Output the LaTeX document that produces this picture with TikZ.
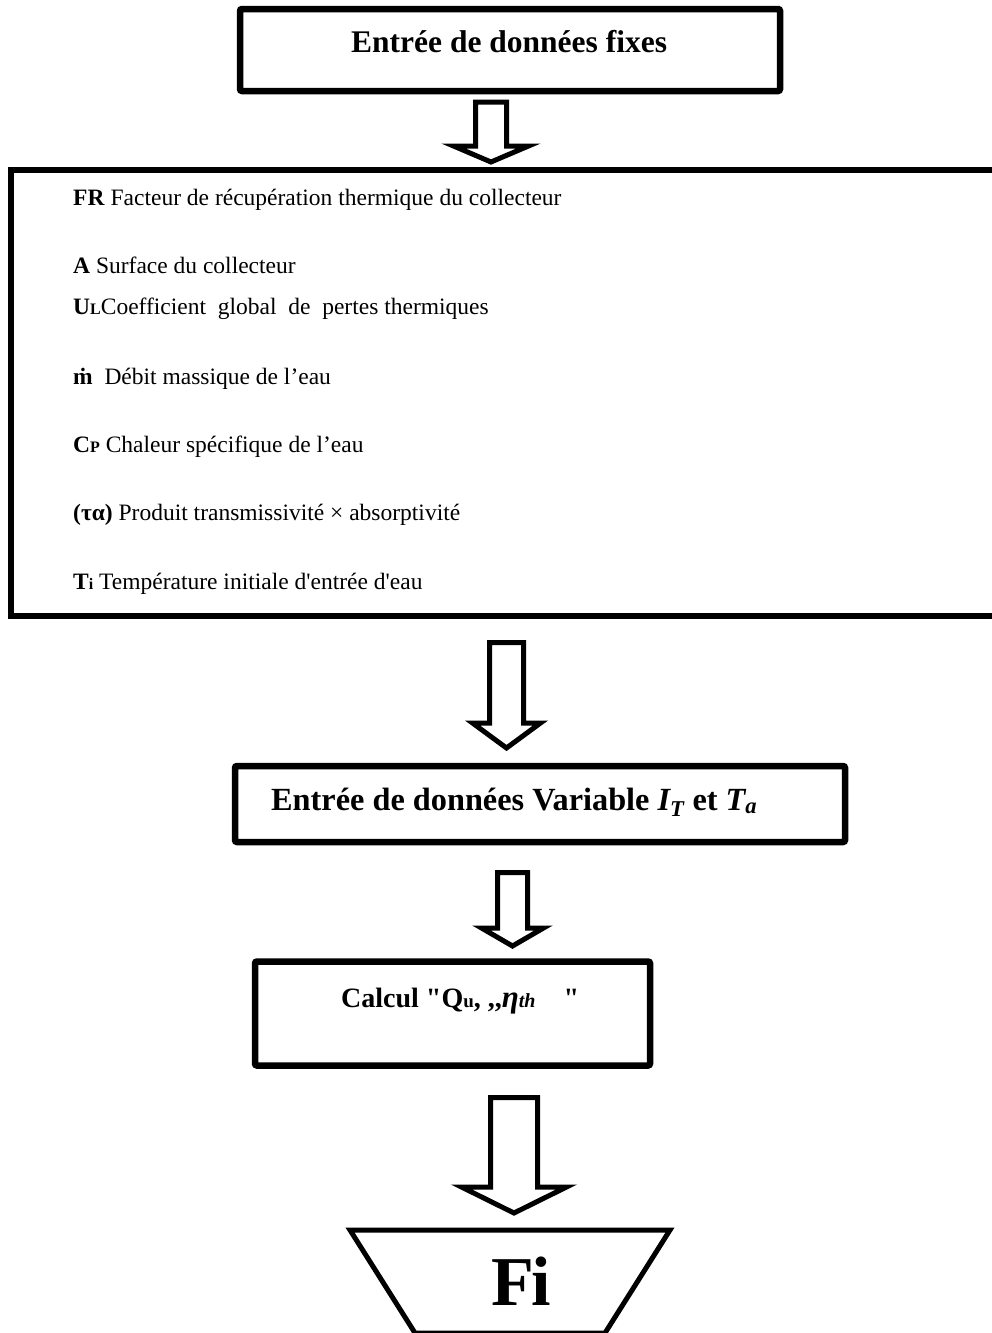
\documentclass[tikz,border=0pt]{standalone}
\usepackage{fontspec}
\setmainfont{Liberation Serif}[Ligatures=TeXOff]
\usetikzlibrary{calc}
\tikzset{
  box/.style={draw, line width=6.5pt, rounded corners=2pt, inner sep=0pt},
  bigbox/.style={draw, line width=6pt, inner sep=0pt},
  blockarrow/.style={draw, line width=5pt, fill=white, line join=miter},
  lbl/.style={inner sep=0pt, anchor=base west, font=\fontsize{23.5}{28}\selectfont},
  title/.style={inner sep=0pt, anchor=base west, font=\bfseries\fontsize{31.5}{36}\selectfont},
}
% block arrow: #1 top coordinate, #2 tip coordinate, #3 shaft half width, #4 head half width, #5 head length
\newcommand\blockarr[5]{%
  \draw[blockarrow] ($(#1)+(-#3,0)$) -- ($(#1)+(#3,0)$) -- ($(#2)+(#3,-#5)$) -- ($(#2)+(#4,-#5)$)
    -- (#2) -- ($(#2)+(-#4,-#5)$) -- ($(#2)+(-#3,-#5)$) -- cycle;}
\newcommand\smallsub[1]{{\fontsize{16}{18}\selectfont #1}}
\begin{document}
\begin{tikzpicture}[x=1pt,y=-1pt]
\useasboundingbox (0,0) rectangle (992,1333);
\clip (0,0) rectangle (992,1333);
% boxes
\node[box, minimum width=540pt, minimum height=82pt] (b1) at (510,50) {};
\node[bigbox, minimum width=999pt, minimum height=446pt] (b2) at (510.5,393) {};
\node[box, minimum width=610pt, minimum height=76pt] (b3) at (540,804) {};
\node[box, minimum width=395pt, minimum height=104pt] (b4) at (452.5,1013.5) {};
\draw[line width=5pt, line join=miter] (350,1230) -- (670,1230) -- (605,1333) -- (415,1333) -- cycle;
% texts
\node[title] (t0) at (351,52) {Entrée de données fixes};
\node[lbl] (t1) at (73,205) {\textbf{FR} Facteur de récupération thermique du collecteur};
\node[lbl] (t2) at (73,273) {\textbf{A} Surface du collecteur};
\node[lbl] (t3) at (73,314) {\textbf{U\smallsub{L}}Coefficient\ \ global\ \ de\ \ pertes thermiques};
\node[lbl] (t4) at (73,384) {\textbf{\.{m}}\ \ Débit massique de l’eau};
\node[lbl] (t5) at (73,452) {\textbf{C\smallsub{P}} Chaleur spécifique de l’eau};
\node[lbl] (t6) at (73,520) {\textbf{(τα)} Produit transmissivité × absorptivité};
\node[lbl] (t7) at (73,589) {\textbf{T\smallsub{i}} Température initiale d'entrée d'eau};
\node[title, font=\bfseries\fontsize{32.3}{36}\selectfont] (t8) at (271,810)
  {Entrée de données Variable \textit{I\textsubscript{T}} et \textit{T\textsubscript{a}}};
\node[title, font=\bfseries\fontsize{28}{32}\selectfont] (t9) at (341,1007)
  {Calcul "Q{\fontsize{19}{22}\selectfont u}, ,,\textit{{\fontsize{31}{32}\selectfont η}{\fontsize{20}{22}\selectfont th}}\ \ \ \ "};
\node[inner sep=0pt, anchor=base, font=\bfseries\fontsize{70}{80}\selectfont] (fi) at (521,1305) {F\kern-3pt i};
% arrows
\coordinate (a1s) at (491,102);  \coordinate (a1t) at (491,162);
\coordinate (a2s) at (506.5,642.5); \coordinate (a2t) at (506.5,748);
\coordinate (a3s) at (512.5,872.5); \coordinate (a3t) at (512.5,946);
\coordinate (a4s) at (514,1097.5); \coordinate (a4t) at (514,1213);
\blockarr{a1s}{a1t}{15.5}{37.5}{16}
\blockarr{a2s}{a2t}{17}{34}{25}
\blockarr{a3s}{a3t}{15}{31}{18}
\blockarr{a4s}{a4t}{23.5}{52.5}{26}
\end{tikzpicture}
\end{document}
